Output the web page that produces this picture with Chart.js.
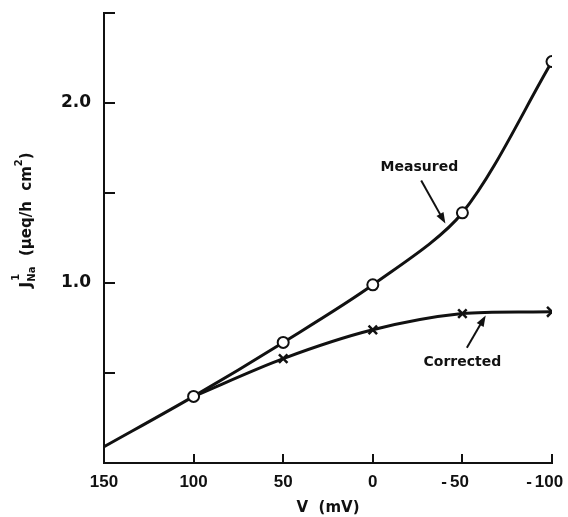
<!DOCTYPE html>
<html>
<head>
<meta charset="utf-8">
<script src="https://cdn.jsdelivr.net/npm/chart.js@4/dist/chart.umd.min.js"></script>
<style>
  html, body { margin: 0; padding: 0; background: #fff; }
  #wrap { width: 568px; height: 517px; }
</style>
</head>
<body>
<div id="wrap"><canvas id="fluxChart"></canvas></div>
<script>
// clamp voltage (mV) and unidirectional Na flux (ueq/h cm2)
const voltage = [150, 100, 50, 0, -50, -100];
const measured = [0.09, 0.37, 0.67, 0.99, 1.39, 2.23];
const corrected = [null, 0.37, 0.58, 0.74, 0.83, 0.84];

const xTicks = [150, 100, 50, 0, -50, -100];
const yTicks = [0.5, 1.0, 1.5, 2.0, 2.5];
const yLabelled = [1.0, 2.0];

// curve labels with arrows, in data units
const notes = [
    { text: "Measured", x: -26, y: 1.64, from: [-27, 1.57], to: [-40.5, 1.33] },
    { text: "Corrected", x: -50, y: 0.56, from: [-52.5, 0.64], to: [-63, 0.82] }
];

const INK = '#111';
const FONT = '"DejaVu Sans", sans-serif';
const NUM_FONT = 'bold 17px "Liberation Sans", Arial, sans-serif';

function toPoints(ys)
{
    return voltage.map((v, i) => ({ x: v, y: ys[i] }));
}

// tick marks point into the plot; x labels keep the number on the tick
// with the minus sign hanging to the left
const innerTicks = {
    id: 'innerTicks',
    afterDraw(chart)
    {
        const ctx = chart.ctx;
        const xs = chart.scales.x;
        const ys = chart.scales.y;
        const area = chart.chartArea;
        ctx.save();
        ctx.strokeStyle = INK;
        ctx.lineWidth = 2;
        ctx.beginPath();
        for (const t of xTicks)
        {
            const px = Math.round(xs.getPixelForValue(t));
            ctx.moveTo(px, area.bottom);
            ctx.lineTo(px, area.bottom - 9);
        }
        for (const t of yTicks)
        {
            const py = Math.round(ys.getPixelForValue(t));
            ctx.moveTo(area.left, py);
            ctx.lineTo(area.left + 11, py);
        }
        ctx.stroke();

        ctx.fillStyle = INK;
        ctx.font = NUM_FONT;
        ctx.textBaseline = 'middle';
        const ly = area.bottom + 19;
        for (const t of xTicks)
        {
            const px = xs.getPixelForValue(t);
            const num = String(Math.abs(t));
            const w = ctx.measureText(num).width;
            const shift = t < 0 ? -3 : 0;
            ctx.textAlign = 'left';
            ctx.fillText(num, px - w / 2 + shift, ly);
            if (t < 0)
            {
                ctx.textAlign = 'right';
                ctx.fillText('-', px - w / 2 + shift - 3, ly);
            }
        }
        ctx.restore();
    }
};

// curve names and their pointer arrows
const curveNotes = {
    id: 'curveNotes',
    afterDatasetsDraw(chart)
    {
        const ctx = chart.ctx;
        const xs = chart.scales.x;
        const ys = chart.scales.y;
        ctx.save();
        ctx.fillStyle = INK;
        ctx.strokeStyle = INK;
        ctx.font = 'bold 14px ' + FONT;
        ctx.textAlign = 'center';
        ctx.textBaseline = 'middle';
        for (const n of notes)
        {
            ctx.fillText(n.text, xs.getPixelForValue(n.x), ys.getPixelForValue(n.y));

            const x1 = xs.getPixelForValue(n.from[0]);
            const y1 = ys.getPixelForValue(n.from[1]);
            const x2 = xs.getPixelForValue(n.to[0]);
            const y2 = ys.getPixelForValue(n.to[1]);
            const ang = Math.atan2(y2 - y1, x2 - x1);
            ctx.lineWidth = 2;
            ctx.beginPath();
            ctx.moveTo(x1, y1);
            ctx.lineTo(x2 - 6 * Math.cos(ang), y2 - 6 * Math.sin(ang));
            ctx.stroke();
            ctx.beginPath();
            ctx.moveTo(x2, y2);
            ctx.lineTo(x2 - 11 * Math.cos(ang) + 4 * Math.sin(ang), y2 - 11 * Math.sin(ang) - 4 * Math.cos(ang));
            ctx.lineTo(x2 - 11 * Math.cos(ang) - 4 * Math.sin(ang), y2 - 11 * Math.sin(ang) + 4 * Math.cos(ang));
            ctx.closePath();
            ctx.fill();
        }
        ctx.restore();
    }
};

// y title with super/subscripts: J¹Na (μeq/h cm²)
const yTitle = {
    id: 'yTitle',
    afterDraw(chart)
    {
        const ctx = chart.ctx;
        ctx.save();
        ctx.translate(31, 220);
        ctx.rotate(-Math.PI / 2);
        ctx.fillStyle = INK;
        ctx.textBaseline = 'alphabetic';
        ctx.textAlign = 'left';
        const parts = [
            { t: 'J', size: 16, dy: 0 },
            { t: 'Na', size: 10, dy: 4, keep: true },
            { t: '1', size: 10, dy: -12, back: true },
            { t: '  (μeq/h  cm', size: 15, dy: 0 },
            { t: '2', size: 10, dy: -9 },
            { t: ')', size: 15, dy: 0 }
        ];
        let total = 0;
        for (const p of parts)
        {
            if (p.back) continue;
            ctx.font = 'bold ' + p.size + 'px ' + FONT;
            total += ctx.measureText(p.t).width;
        }
        let x = -total / 2;
        let markX = 0;
        for (const p of parts)
        {
            ctx.font = 'bold ' + p.size + 'px ' + FONT;
            if (p.back)
            {
                ctx.fillText(p.t, markX + 1, p.dy);
                continue;
            }
            if (p.keep) markX = x;
            ctx.fillText(p.t, x, p.dy);
            x += ctx.measureText(p.t).width;
        }
        ctx.restore();
    }
};

new Chart(document.getElementById("fluxChart"), {
    type: 'line',
    data: {
        datasets: [{
            label: "Measured",
            data: toPoints(measured),
            borderColor: INK,
            borderWidth: 3,
            tension: 0.3,
            pointStyle: 'circle',
            pointRadius: [0, 5.5, 5.5, 5.5, 5.5, 5.5],
            pointBorderWidth: 2,
            pointBackgroundColor: '#fff',
            pointBorderColor: INK
        }, {
            label: "Corrected",
            data: toPoints(corrected),
            borderColor: INK,
            borderWidth: 3,
            tension: 0.3,
            pointStyle: 'crossRot',
            pointRadius: [0, 0, 6, 6, 6, 7],
            pointBorderWidth: 2.5,
            pointBackgroundColor: '#fff',
            pointBorderColor: INK
        }]
    },
    options: {
        responsive: true,
        maintainAspectRatio: false,
        animation: false,
        layout: { padding: { top: 13, right: 16, left: 0, bottom: 0 } },
        plugins: {
            legend: { display: false },
            tooltip: { enabled: false }
        },
        scales: {
            x: {
                type: 'linear',
                reverse: true,
                min: -100,
                max: 150,
                grid: { display: false, drawTicks: false },
                border: { display: true, color: INK, width: 2 },
                ticks: { stepSize: 50, display: false },
                title: {
                    display: true,
                    text: 'V  (mV)',
                    color: INK,
                    padding: { top: 0, bottom: 0 },
                    font: { family: FONT, size: 15, weight: 'bold' }
                },
                afterFit(scale)
                {
                    scale.height = 54;
                    scale.paddingLeft = 0;
                    scale.paddingRight = 0;
                }
            },
            y: {
                min: 0,
                max: 2.5,
                grid: { display: false, drawTicks: false },
                border: { display: true, color: INK, width: 2 },
                ticks: {
                    stepSize: 0.5,
                    padding: 13,
                    color: INK,
                    font: { family: FONT, size: 17, weight: 'bold' },
                    callback: v => (yLabelled.includes(v) ? v.toFixed(1) : '')
                },
                afterFit(scale)
                {
                    scale.width = 104;
                    scale.paddingTop = 0;
                    scale.paddingBottom = 0;
                }
            }
        }
    },
    plugins: [innerTicks, curveNotes, yTitle]
});
</script>
</body>
</html>
